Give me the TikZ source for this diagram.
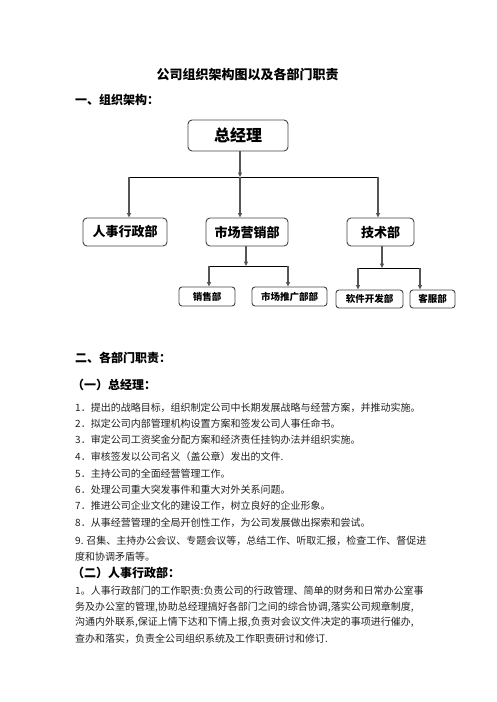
\documentclass[tikz,border=0pt]{standalone}
\usepackage{fontspec}
\usetikzlibrary{arrows.meta}
\newfontfamily\cjk{Noto Sans CJK SC}
\XeTeXlinebreaklocale "zh"
\XeTeXlinebreakskip=0pt plus 1pt
\definecolor{boxline}{HTML}{444444}
\definecolor{conn}{HTML}{555555}
\definecolor{bodytext}{HTML}{222222}
\tikzset{
  orgbox/.style={draw=boxline, line width=0.9pt, rounded corners=4pt, fill=white, inner sep=0pt, font=\cjk\bfseries},
  gmbox/.style={orgbox, minimum width=100pt, minimum height=31pt, font=\cjk\bfseries\fontsize{16}{18}\selectfont},
  deptbox/.style={orgbox, minimum height=28pt, font=\cjk\bfseries\fontsize{13}{15}\selectfont},
  subbox/.style={orgbox, minimum height=19pt, rounded corners=3pt, font=\cjk\bfseries\fontsize{9.5}{11}\selectfont},
  vconn/.style={draw=conn, line width=1.1pt, -{Triangle[width=4pt,length=4.5pt]}},
  hconn/.style={draw=black, line width=0.8pt},
  bodyline/.style={anchor=west, inner sep=0pt, text=bodytext, font=\cjk\fontsize{10}{12}\selectfont},
  headline/.style={anchor=west, inner sep=0pt, font=\cjk\bfseries\fontsize{12}{14}\selectfont},
}
\begin{document}
\begin{tikzpicture}[x=1pt,y=-1pt]
\useasboundingbox[fill=white] (0,0) rectangle (496,702);

% titles
\node[inner sep=0pt, font=\cjk\bfseries\fontsize{13}{15}\selectfont] (title) at (247.5,75) {公司组织架构图以及各部门职责};
\node[headline] (h1) at (75,100) {一、组织架构：};

% org chart nodes
\node[gmbox] (gm) at (238,135.5) {总经理};
\node[deptbox, minimum width=84pt] (hr) at (125,232) {人事行政部};
\node[deptbox, minimum width=82pt] (mk) at (247,232) {市场营销部};
\node[deptbox, minimum width=67pt] (tech) at (380.5,232) {技术部};
\node[subbox, minimum width=56pt] (sales) at (207,296.5) {销售部};
\node[subbox, minimum width=75pt] (promo) at (289.5,296.5) {市场推广部部};
\node[subbox, minimum width=67pt, minimum height=18pt] (soft) at (369.5,299) {软件开发部};
\node[subbox, minimum width=45pt, minimum height=18pt] (cs) at (432.5,299) {客服部};

% level 1 connectors
\coordinate (j1) at (240,177);
\coordinate (jL) at (129,177);
\coordinate (jR) at (378,177);
\draw[hconn] (jL) -- (jR);
\draw[vconn] (gm.south -| j1) -- (j1);
\draw[vconn] (jL) -- (hr.north -| jL);
\draw[vconn] (j1) -- (mk.north -| j1);
\draw[vconn] (jR) -- (tech.north -| jR);

% marketing connectors
\coordinate (m1) at (246,266);
\coordinate (mL) at (209,266);
\coordinate (mR) at (288,266);
\draw[hconn] (mL) -- (mR);
\draw[vconn] (mk.south -| m1) -- (m1);
\draw[vconn] (mL) -- (sales.north -| mL);
\draw[vconn] (mR) -- (promo.north -| mR);

% tech connectors
\coordinate (t1) at (382,268);
\coordinate (tL) at (358,268);
\coordinate (tR) at (420,268);
\draw[hconn] (tL) -- (tR);
\draw[vconn] (tech.south -| t1) -- (t1);
\draw[vconn] (tL) -- (soft.north -| tL);
\draw[vconn] (tR) -- (cs.north -| tR);

% section 2
\node[headline] (h2) at (75,358) {二、各部门职责：};
\node[headline] (h21) at (72,385) {（一）总经理：};
\node[bodyline] (l1) at (75,408) {1．提出的战略目标，组织制定公司中长期发展战略与经营方案，并推动实施。};
\node[bodyline] (l2) at (75,424) {2．拟定公司内部管理机构设置方案和签发公司人事任命书。};
\node[bodyline] (l3) at (75,440) {3．审定公司工资奖金分配方案和经济责任挂钩办法并组织实施。};
\node[bodyline] (l4) at (75,457) {4．审核签发以公司名义（盖公章）发出的文件.};
\node[bodyline] (l5) at (75,474) {5．主持公司的全面经营管理工作。};
\node[bodyline] (l6) at (75,490) {6．处理公司重大突发事件和重大对外关系问题。};
\node[bodyline] (l7) at (75,506) {7．推进公司企业文化的建设工作，树立良好的企业形象。};
\node[bodyline] (l8) at (75,523) {8．从事经营管理的全局开创性工作，为公司发展做出探索和尝试。};
\node[bodyline] (l9a) at (75,541) {\makebox[345pt][s]{9. 召集、主持办公会议、专题会议等，总结工作、听取汇报，检查工作、督促进}};
\node[bodyline] (l9b) at (75,557) {度和协调矛盾等。};
\node[headline] (h22) at (72,573) {（二）人事行政部：};
\node[bodyline] (p1) at (75,591) {\makebox[347pt][s]{1。人事行政部门的工作职责:负责公司的行政管理、简单的财务和日常办公室事}};
\node[bodyline] (p2) at (75,607) {\makebox[347pt][s]{务及办公室的管理,协助总经理搞好各部门之间的综合协调,落实公司规章制度,}};
\node[bodyline] (p3) at (75,622) {\makebox[347pt][s]{沟通内外联系,保证上情下达和下情上报,负责对会议文件决定的事项进行催办,}};
\node[bodyline] (p4) at (75,639) {查办和落实，负责全公司组织系统及工作职责研讨和修订.};
\end{tikzpicture}
\end{document}
